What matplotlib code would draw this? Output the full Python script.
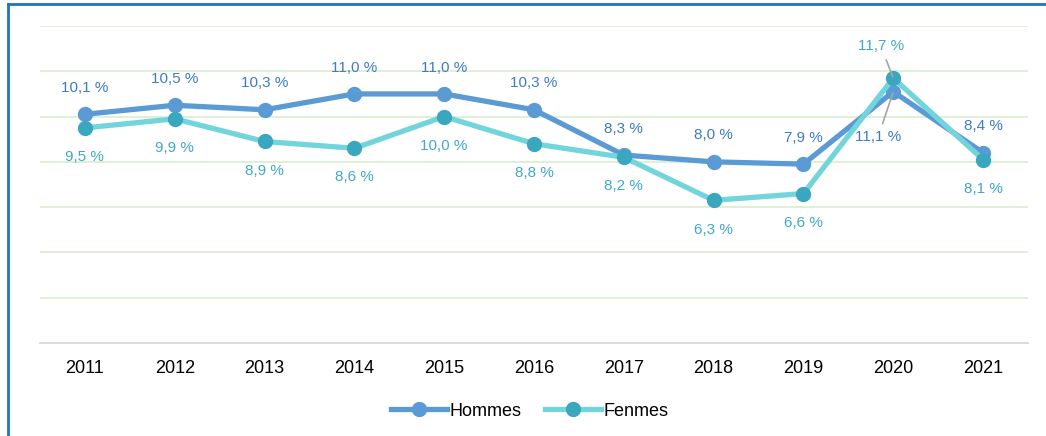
import matplotlib.pyplot as plt
from matplotlib.lines import Line2D

plt.rcParams["font.family"] = ["Liberation Sans", "DejaVu Sans"]

years = ["2011", "2012", "2013", "2014", "2015", "2016", "2017", "2018", "2019", "2020", "2021"]
hommes = [10.1, 10.5, 10.3, 11.0, 11.0, 10.3, 8.3, 8.0, 7.9, 11.1, 8.4]
femmes = [9.5, 9.9, 8.9, 8.6, 10.0, 8.8, 8.2, 6.3, 6.6, 11.7, 8.1]


def fmt(v):
    return f"{v:.1f} %".replace(".", ",")


def main() -> None:
    fig = plt.figure(figsize=(10.46, 4.36), dpi=100)
    ax = fig.add_axes([40 / 1046, (436 - 343) / 436, 988 / 1046, 317 / 436])

    x = list(range(len(years)))
    ax.plot(x, hommes, color="#5B9BD5", lw=3.8, marker="o", ms=10,
            mfc="#5B9BD5", mec="#5B9BD5", label="Hommes", zorder=3)
    ax.plot(x, femmes, color="#72D5DB", lw=3.8, marker="o", ms=10,
            mfc="#3BA7BF", mec="#3BA7BF", label="Fenmes", zorder=4)

    blue_txt = "#3E7CC0"
    teal_txt = "#40A9C4"
    for i, (h, f) in enumerate(zip(hommes, femmes)):
        if years[i] == "2020":
            ax.annotate(fmt(f), (i, f), xytext=(-9, 23), textcoords="offset points",
                        ha="center", va="center", fontsize=11, color=teal_txt, zorder=6,
                        arrowprops=dict(arrowstyle="-", color="#A6A6A6", lw=1.2,
                                        shrinkA=3, shrinkB=1))
            ax.annotate(fmt(h), (i, h), xytext=(-11, -33), textcoords="offset points",
                        ha="center", va="center", fontsize=11, color=blue_txt, zorder=6,
                        arrowprops=dict(arrowstyle="-", color="#A6A6A6", lw=1.2,
                                        shrinkA=3, shrinkB=1))
            continue
        ax.annotate(fmt(h), (i, h), xytext=(0, 19), textcoords="offset points",
                    ha="center", va="center", fontsize=11, color=blue_txt)
        ax.annotate(fmt(f), (i, f), xytext=(0, -21), textcoords="offset points",
                    ha="center", va="center", fontsize=11, color=teal_txt)

    ax.set_xlim(-0.5, len(years) - 0.5)
    ax.set_ylim(0, 14)
    ax.set_yticks(range(0, 15, 2))
    ax.set_yticklabels([])
    ax.set_xticks(x)
    ax.set_xticklabels(years, fontsize=13)
    ax.tick_params(axis="both", length=0)
    ax.tick_params(axis="x", pad=12)
    ax.grid(axis="y", color="#DCEFD2", lw=1.3)
    ax.set_axisbelow(True)
    for side in ["top", "right", "left"]:
        ax.spines[side].set_visible(False)
    ax.spines["bottom"].set_color("#D9D9D9")
    ax.spines["bottom"].set_linewidth(1.3)
    ax.spines["bottom"].set_zorder(2)

    ax.legend(loc="center", bbox_to_anchor=(530 / 1046, 1 - 411 / 436),
              bbox_transform=fig.transFigure, ncol=2, frameon=False,
              fontsize=13, handlelength=3.1, columnspacing=1.3, handletextpad=0.15)

    fig.add_artist(Line2D([8 / 1046, 8 / 1046], [0, 1 - 4 / 436],
                          transform=fig.transFigure, color="#1F72C4", lw=2))
    fig.add_artist(Line2D([8 / 1046, 1], [1 - 4 / 436, 1 - 4 / 436],
                          transform=fig.transFigure, color="#1F72C4", lw=2))

    fig.savefig("out.png", dpi=100)
    plt.close(fig)


if __name__ == "__main__":
    main()
